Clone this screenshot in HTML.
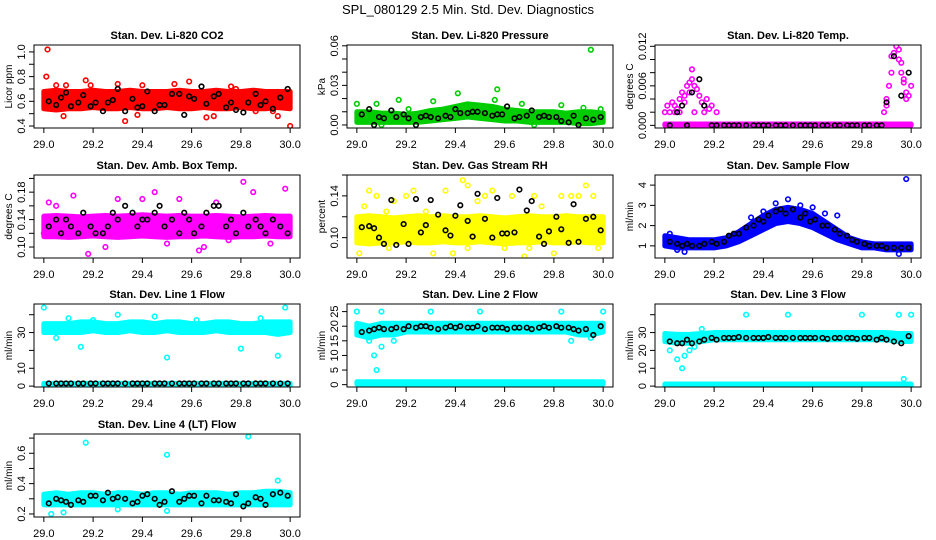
<!DOCTYPE html>
<html><head><meta charset="utf-8"><style>
html,body{margin:0;padding:0;background:#fff;}
svg{display:block;font-family:"Liberation Sans",sans-serif;}
</style></head><body>
<svg id="chart" width="936" height="540" viewBox="0 0 936 540">
<text x="468" y="14" text-anchor="middle" font-size="13">SPL_080129  2.5 Min. Std. Dev. Diagnostics</text>
</svg>
<script>
const xTicks = [29.0, 29.2, 29.4, 29.6, 29.8, 30.0];
const xTickLabels = ["29.0","29.2","29.4","29.6","29.8","30.0"];
const bandX = [29.0,29.05,29.1,29.15,29.2,29.25,29.3,29.35,29.4,29.45,29.5,29.55,29.6,29.65,29.7,29.75,29.8,29.85,29.9,29.95,30.0];
const blackX = [29.02,29.05,29.07,29.09,29.11,29.14,29.16,29.19,29.21,29.24,29.26,29.28,29.30,29.33,29.36,29.38,29.40,29.42,29.45,29.47,29.49,29.52,29.55,29.57,29.59,29.61,29.64,29.66,29.69,29.71,29.74,29.76,29.78,29.81,29.83,29.86,29.88,29.90,29.93,29.96,29.99];

const titles = ["Stan. Dev. Li-820 CO2","Stan. Dev. Li-820 Pressure","Stan. Dev. Li-820 Temp.","Stan. Dev. Amb. Box Temp.","Stan. Dev. Gas Stream RH","Stan. Dev. Sample Flow","Stan. Dev. Line 1 Flow","Stan. Dev. Line 2 Flow","Stan. Dev. Line 3 Flow","Stan. Dev. Line 4 (LT) Flow"];
const yTitles = ["Licor ppm","kPa","degrees C","degrees C","percent","ml/min","ml/min","ml/min","ml/min","ml/min"];
const colors = ["#ff0000","#00cd00","#ff00ff","#ff00ff","#ffff00","#0000ff","#00ffff","#00ffff","#00ffff","#00ffff"];
const yDomains = [[0.384,1.056],[-0.0023,0.0606],[-0.0004,0.0122],[0.084,0.205],[0.0805,0.160],[0.4,4.5],[-0.5,46],[-0.8,27.6],[-0.5,46],[0.18,0.727]];
const yTickVals = [[0.4,0.5,0.6,0.7,0.8,0.9,1.0],[0,0.01,0.02,0.03,0.04,0.05,0.06],[0,0.002,0.004,0.006,0.008,0.010,0.012],[0.10,0.12,0.14,0.16,0.18,0.20],[0.10,0.12,0.14,0.16],[1,2,3,4],[0,10,20,30,40],[0,5,10,15,20,25],[0,10,20,30,40],[0.2,0.3,0.4,0.5,0.6,0.7]];
const yTickLabels = [["0.4","","0.6","","0.8","","1.0"],["0.00","","","0.03","","","0.06"],["0.000","","","0.006","","","0.012"],["0.10","","0.14","","0.18",""],["0.10","","0.14",""],["1","2","3","4"],["0","10","","30",""],["0","5","10","15","20","25"],["0","10","20","30",""],["0.2","","0.4","","0.6",""]];

const bandLo = [
 [[.54,.53,.54,.54,.55,.54,.54,.55,.54,.54,.55,.54,.54,.55,.54,.54,.55,.54,.54,.55,.54]],
 [[.002,.002,.002,.002,.002,.002,.003,.004,.005,.006,.005,.004,.003,.003,.002,.002,.002,.002,.001,.001,.002]],
 [[0,0,0,0,0,0,0,0,0,0,0,0,0,0,0,0,0,0,0,0,0]],
 [[.115,.115,.114,.115,.116,.115,.114,.115,.116,.115,.114,.115,.115,.116,.115,.114,.115,.115,.116,.115,.115]],
 [[.095,.094,.095,.095,.096,.095,.095,.096,.095,.095,.096,.095,.094,.095,.095,.096,.095,.095,.096,.095,.095]],
 [[1.0,0.9,0.9,0.9,0.9,1.0,1.2,1.5,1.8,2.1,2.2,2.1,1.9,1.6,1.3,1.1,0.9,0.9,0.8,0.8,0.8]],
 [[30,30,30,30,31,30,30,31,30,30,31,30,30,30,31,30,30,30,30,29,30],[0.4,0.4,0.4,0.4,0.4,0.4,0.4,0.4,0.4,0.4,0.4,0.4,0.4,0.4,0.4,0.4,0.4,0.4,0.4,0.4,0.4]],
 [[17,16,17,17,18,18,18,18,18,18,18,18,18,18,18,18,18,18,17,17,18],[0.2,0.2,0.2,0.2,0.2,0.2,0.2,0.2,0.2,0.2,0.2,0.2,0.2,0.2,0.2,0.2,0.2,0.2,0.2,0.2,0.2]],
 [[25,24,24,25,26,26,26,26,26,26,26,26,26,26,26,26,26,26,26,25,25],[0,0,0,0,0,0,0,0,0,0,0,0,0,0,0,0,0,0,0,0,0]],
 [[.26,.26,.26,.26,.26,.26,.26,.26,.26,.26,.26,.26,.26,.26,.26,.26,.26,.26,.26,.26,.26]]
];
const bandHi = [
 [[.68,.69,.68,.68,.69,.68,.68,.69,.68,.68,.68,.69,.68,.68,.69,.68,.68,.69,.68,.68,.68]],
 [[.010,.010,.009,.009,.008,.009,.011,.012,.014,.016,.015,.014,.012,.011,.010,.010,.010,.009,.010,.010,.009]],
 [[.0002,.0002,.0002,.0002,.0002,.0002,.0002,.0002,.0002,.0002,.0002,.0002,.0002,.0002,.0002,.0002,.0002,.0002,.0002,.0002,.0002]],
 [[.145,.146,.145,.144,.145,.146,.145,.146,.147,.146,.145,.146,.145,.145,.146,.145,.144,.145,.146,.145,.145]],
 [[.120,.121,.120,.119,.120,.121,.120,.121,.120,.120,.121,.120,.119,.120,.121,.120,.120,.121,.120,.120,.120]],
 [[1.5,1.4,1.3,1.3,1.3,1.4,1.7,2.1,2.5,2.8,2.9,2.8,2.6,2.2,1.8,1.4,1.2,1.1,1.1,1.1,1.1]],
 [[35,35,35,36,36,35,35,36,36,35,36,36,35,35,36,36,35,35,36,36,36],[1.5,1.5,1.5,1.5,1.5,1.5,1.5,1.5,1.5,1.5,1.5,1.5,1.5,1.5,1.5,1.5,1.5,1.5,1.5,1.5,1.5]],
 [[21,20,21,21,21,21,21,21,21,21,21,21,21,21,21,21,21,21,21,21,21],[1.0,1.0,1.0,1.0,1.0,1.0,1.0,1.0,1.0,1.0,1.0,1.0,1.0,1.0,1.0,1.0,1.0,1.0,1.0,1.0,1.0]],
 [[29.5,29,29,29.5,30,30,30,30,30,30,30,30,30,30,30,30,30,30,30,29.5,29.5],[1.2,1.2,1.2,1.2,1.2,1.2,1.2,1.2,1.2,1.2,1.2,1.2,1.2,1.2,1.2,1.2,1.2,1.2,1.2,1.2,1.2]],
 [[.33,.34,.33,.34,.34,.33,.34,.34,.33,.34,.34,.33,.34,.34,.34,.33,.34,.34,.35,.35,.34]]
];

const outX = [
 [29.01,29.015,29.05,29.09,29.08,29.17,29.19,29.3,29.33,29.38,29.4,29.53,29.59,29.66,29.69,29.76,29.78,29.95,30.0,29.86,29.93],
 [29.95,29.41,29.57,29.17,29.0,29.08,29.31,29.56,29.67,29.83,29.99,29.92,29.21,29.72,29.1],
 [29.0,29.01,29.02,29.03,29.04,29.05,29.06,29.07,29.08,29.09,29.1,29.1,29.11,29.12,29.13,29.14,29.15,29.16,29.17,29.18,29.19,29.21,29.06,29.12,29.16,29.04,29.08,29.11,29.89,29.9,29.9,29.91,29.92,29.92,29.93,29.94,29.95,29.96,29.96,29.97,29.97,29.98,29.99,30.0,29.98,29.95],
 [29.02,29.05,29.12,29.18,29.3,29.4,29.45,29.55,29.63,29.65,29.7,29.81,29.85,29.98,29.92,29.0,29.25,29.5,29.75],
 [29.01,29.03,29.05,29.08,29.12,29.15,29.2,29.23,29.28,29.31,29.36,29.39,29.43,29.45,29.49,29.52,29.55,29.6,29.63,29.68,29.72,29.75,29.8,29.83,29.87,29.9,29.93,29.96,29.98,29.13,29.45,29.7],
 [29.98,29.02,29.05,29.08,29.4,29.45,29.5,29.55,29.6,29.65,29.7,29.35,29.95],
 [29.1,29.15,29.2,29.3,29.45,29.5,29.62,29.8,29.88,29.95,29.98,29.0,29.05],
 [29.0,29.05,29.07,29.08,29.1,29.12,29.15,29.3,29.5,29.83,29.87,29.95,30.0,29.1],
 [29.05,29.07,29.08,29.1,29.12,29.02,29.33,29.5,29.8,29.95,30.0,29.97,29.15],
 [29.17,29.5,29.83,29.95,29.03,29.08,29.3,29.5]
];
const outY = [
 [0.80,1.02,0.73,0.73,0.48,0.77,0.73,0.74,0.44,0.49,0.73,0.74,0.76,0.47,0.48,0.72,0.70,0.48,0.40,0.52,0.52],
 [0.057,0.024,0.027,0.019,0.016,0.016,0.018,0.019,0.016,0.015,0.012,0.013,0.012,0.0,0.0],
 [0.002,0.003,0.002,0.0035,0.003,0.0025,0.004,0.005,0.0045,0.006,0.0065,0.005,0.007,0.006,0.0055,0.0045,0.0035,0.003,0.004,0.0025,0.003,0.002,0.002,0.002,0.002,0.002,0.0035,0.0085,0.002,0.003,0.004,0.006,0.008,0.0105,0.011,0.012,0.0115,0.0095,0.008,0.007,0.0065,0.005,0.0045,0.006,0.004,0.01],
 [0.165,0.16,0.175,0.09,0.17,0.17,0.18,0.17,0.095,0.10,0.165,0.195,0.18,0.185,0.105,0.12,0.10,0.105,0.11],
 [0.085,0.13,0.145,0.14,0.125,0.135,0.14,0.145,0.125,0.085,0.145,0.085,0.155,0.15,0.135,0.14,0.145,0.09,0.14,0.082,0.14,0.13,0.085,0.14,0.14,0.14,0.15,0.14,0.09,0.09,0.09,0.09],
 [4.3,1.6,0.8,0.7,2.7,3.1,3.3,3.0,2.9,2.6,2.5,2.4,0.6],
 [38,22,37,40,39,16,37,21,38,17,44,44,27],
 [25,15,10,5,13,20,15,25,25,25,15,16,25,25],
 [15,10,17,20,22,20,40,40,40,40,40,4,32],
 [0.67,0.59,0.71,0.42,0.20,0.21,0.23,0.22]
];

const blackY = [
 [0.60,0.57,0.63,0.67,0.56,0.59,0.65,0.56,0.59,0.52,0.59,0.61,0.70,0.52,0.62,0.55,0.56,0.68,0.52,0.57,0.57,0.66,0.66,0.49,0.64,0.62,0.72,0.58,0.64,0.66,0.55,0.59,0.53,0.51,0.59,0.66,0.57,0.60,0.54,0.63,0.70],
 [.008,.012,.0,.006,.005,.011,.006,.008,.005,.0,.006,.007,.006,.005,.007,.006,.012,.009,.009,.01,.01,.009,.007,.008,.008,.014,.005,.006,.007,.011,.006,.007,.006,.006,.003,.002,.007,.0,.005,.004,.006],
 [0,.002,.003,0,.005,.007,.003,0,0,0,0,0,0,0,0,0,0,0,0,0,0,0,0,0,0,0,0,0,0,0,0,0,0,0,0,0,0,.0035,.0105,.0045,.008],
 [.13,.14,.12,.14,.13,.12,.15,.13,.12,.12,.13,.15,.14,.16,.15,.13,.14,.14,.15,.16,.13,.14,.12,.15,.14,.12,.13,.15,.16,.16,.13,.14,.12,.15,.13,.14,.13,.12,.14,.13,.12],
 [.11,.111,.109,.10,.094,.136,.093,.113,.094,.137,.105,.112,.136,.122,.107,.102,.121,.131,.116,.101,.142,.118,.10,.138,.104,.104,.105,.146,.126,.135,.101,.094,.106,.12,.108,.095,.132,.096,.118,.12,.107],
 [1.2,1.1,1.0,1.1,1.0,1.0,1.1,1.2,1.1,1.2,1.5,1.6,1.6,1.9,2.0,2.3,2.2,2.5,2.7,2.8,2.6,2.8,2.4,2.6,2.2,2.3,2.0,2.0,1.8,1.6,1.5,1.3,1.2,1.1,1.0,1.0,1.0,0.9,0.9,0.9,0.9],
 [1.5,1.5,1.5,1.5,1.5,1.5,1.5,1.5,1.5,1.5,1.5,1.5,1.5,1.5,1.5,1.5,1.5,1.5,1.5,1.5,1.5,1.5,1.5,1.5,1.5,1.5,1.5,1.5,1.5,1.5,1.5,1.5,1.5,1.5,1.5,1.5,1.5,1.5,1.5,1.5,1.5],
 [18,18.5,19,19.5,19,19,19.5,19,20,19.5,20,20,19.5,19,19.5,20,19.5,20,19.5,19.5,20,19,19.5,19.5,19.5,19,19.5,19.5,19.5,19,19.5,20,19.5,20,19.5,19.5,19,18.5,19,17,20],
 [25,24,24,26,24,25,26,27,26,27,27,27,27.5,27,27,27,27,27.5,27,27,27,27,27,27,27,27,27,26.5,27,27,27,27,26.5,27,27,26,27,26,25,24,28],
 [.27,.30,.29,.28,.26,.29,.28,.32,.32,.29,.34,.30,.31,.30,.27,.28,.32,.33,.30,.26,.28,.35,.28,.30,.32,.32,.27,.32,.29,.29,.28,.27,.33,.25,.27,.31,.30,.26,.33,.34,.32]
];

const NS = "http://www.w3.org/2000/svg";
const svg = document.getElementById("chart");
const colL = [34, 347, 655];
const colW = 266;
const rowT = [45, 175, 304, 434];
const rowH = 83;
function mk(tag, attrs, parent){ const e=document.createElementNS(NS,tag); for(const k in attrs) e.setAttribute(k,attrs[k]); (parent||svg).appendChild(e); return e; }

for (let p = 0; p < titles.length; p++) {
  const L = colL[p % 3], T = rowT[Math.floor(p / 3)];
  const g = mk("g", {});
  
  
  const xs = v => L + (v - 28.96) / 1.08 * colW;
  const dom = yDomains[p];
  const ys = v => T + rowH - (v - dom[0]) / (dom[1] - dom[0]) * rowH;
  const cp = mk("clipPath", {id: "c" + p}, g);
  mk("rect", {x: L, y: T, width: colW, height: rowH}, cp);
  const data = mk("g", {"clip-path": "url(#c" + p + ")"}, g);
  
  
  for (let b = 0; b < bandLo[p].length; b++) {
    let pts = [];
    for (let i = 0; i < bandX.length; i++) pts.push(xs(bandX[i]) + "," + ys(bandHi[p][b][i]));
    for (let i = bandX.length - 1; i >= 0; i--) pts.push(xs(bandX[i]) + "," + ys(bandLo[p][b][i]));
    const poly = mk("polygon", {points: pts.join(" "), fill: colors[p], stroke: colors[p], "stroke-width": 5, "stroke-linejoin": "round"}, data);
    
    
  }
  for (let i = 0; i < outX[p].length; i++) {
    const c = mk("circle", {cx: xs(outX[p][i]), cy: ys(outY[p][i]), r: 2.3, fill: "none", stroke: colors[p], "stroke-width": 1.6}, data);
    
    
  }
  for (let i = 0; i < blackX.length; i++) {
    const c = mk("circle", {cx: xs(blackX[i]), cy: ys(blackY[p][i]), r: 2.3, fill: "none", stroke: "#000", "stroke-width": 1.6}, data);
    
    
  }
  const box = mk("rect", {x: L, y: T, width: colW, height: rowH, fill: "none", stroke: "#000", "stroke-width": 1}, g);
  
  
  const tt = mk("text", {x: L + colW / 2, y: T - 6, "text-anchor": "middle", "font-size": 11, "font-weight": "bold"}, g);
  tt.textContent = titles[p];
  
  
  for (let i = 0; i < xTicks.length; i++) {
    const x = xs(xTicks[i]);
    mk("line", {x1: x, x2: x, y1: T + rowH, y2: T + rowH + 5, stroke: "#000"}, g);
    const t = mk("text", {x: x, y: T + rowH + 20, "text-anchor": "middle", "font-size": 11}, g);
    t.textContent = xTickLabels[i];
    
    
  }
  for (let i = 0; i < yTickVals[p].length; i++) {
    const y = ys(yTickVals[p][i]);
    mk("line", {x1: L - 5, x2: L, y1: y, y2: y, stroke: "#000"}, g);
    if (yTickLabels[p][i]) {
      const t = mk("text", {x: L - 9, y: y, "text-anchor": "middle", "font-size": 11, transform: "rotate(-90 " + (L - 9) + " " + y + ")"}, g);
      t.textContent = yTickLabels[p][i];
      
      
    }
  }
  const yt = mk("text", {x: L - 22, y: T + rowH / 2, "text-anchor": "middle", "font-size": 10, transform: "rotate(-90 " + (L - 22) + " " + (T + rowH / 2) + ")"}, g);
  yt.textContent = yTitles[p];
  
  
}
</script>
</body></html>
